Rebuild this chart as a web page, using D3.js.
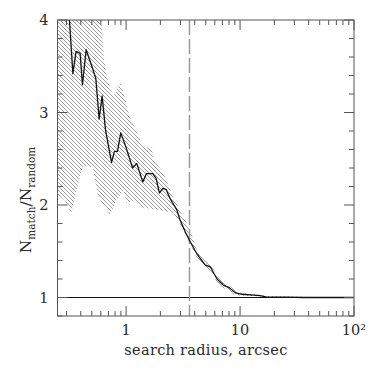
<!DOCTYPE html>
<html>
<head>
<meta charset="utf-8">
<script src="https://cdn.jsdelivr.net/npm/d3@7"></script>
<style>
body { margin: 0; background: #fff; }
text { font-family: "DejaVu Serif", "Liberation Serif", serif; fill: #2a2a2a; }
</style>
</head>
<body>
<div id="chart"></div>
<script>
// measured ratio vs search radius
var radius = [0.30, 0.341, 0.364, 0.395, 0.414, 0.446, 0.50, 0.542, 0.58, 0.616, 0.66, 0.745, 0.79, 0.84, 0.898,
              1.0, 1.14, 1.24, 1.40, 1.51, 1.71, 1.83, 1.96, 2.10, 2.24, 2.43, 2.78, 2.97, 3.3, 3.66,
              4.19, 4.96, 5.49, 6.28, 7.2, 7.96, 9.1, 10.4, 13.2, 15.0, 17.2, 25.8, 36, 100];
var ratio = [4.5, 3.42, 3.66, 3.64, 3.30, 3.68, 3.50, 3.37, 2.93, 3.18, 2.81, 2.46, 2.58, 2.58, 2.78,
             2.62, 2.40, 2.45, 2.25, 2.34, 2.34, 2.29, 2.13, 2.18, 2.17, 2.07, 1.95, 1.84, 1.71, 1.60,
             1.47, 1.35, 1.33, 1.20, 1.13, 1.11, 1.05, 1.035, 1.025, 1.02, 1.005, 1.003, 1.0, 1.0];

// error band edges
var upperX = [0.25, 0.60, 0.64, 0.68, 0.77, 0.89, 0.95, 1.08, 1.25, 1.41, 1.69, 1.72, 2.11, 2.58, 3.05, 3.64,
              4.19, 5.0, 5.5, 6.3, 7.2, 8.0, 9.0, 10.4, 13, 15, 17, 25, 40, 100];
var upperY = [4.6, 4.1, 3.57, 3.38, 3.17, 3.32, 3.21, 2.95, 2.78, 2.63, 2.62, 2.49, 2.36, 2.09, 1.92, 1.73,
              1.52, 1.40, 1.36, 1.25, 1.17, 1.13, 1.08, 1.05, 1.035, 1.03, 1.015, 1.01, 1.005, 1.003];
var lowerX = [0.25, 0.264, 0.29, 0.33, 0.36, 0.395, 0.42, 0.45, 0.47, 0.51, 0.57, 0.64, 0.72, 0.82, 0.95,
              1.01, 1.16, 1.42, 1.92, 2.6, 3.18, 3.64,
              4.19, 5.0, 5.5, 6.3, 7.2, 8.0, 9.0, 10.4, 13, 15, 17, 25, 40, 100];
var lowerY = [2.11, 2.09, 2.05, 1.92, 2.11, 2.32, 2.41, 2.42, 2.41, 2.41, 2.08, 2.0, 1.89, 2.05, 2.16,
              2.02, 2.05, 1.97, 1.95, 1.91, 1.73, 1.58,
              1.42, 1.31, 1.29, 1.16, 1.10, 1.08, 1.03, 1.02, 1.015, 1.01, 0.997, 0.997, 0.995, 0.997];

var cutRadius = 3.6;
var yTicks = [1, 2, 3, 4];
var xTicks = [1, 10, 100];
var xTickLabels = ["1", "10", "10²"];

var width = 374, height = 374;
var margin = {left: 57.5, right: 20, top: 20, bottom: 58};
var x = d3.scaleLog().domain([0.25, 100]).range([margin.left, width - margin.right]);
var y = d3.scaleLinear().domain([0.8, 4]).range([height - margin.bottom, margin.top]);

var svg = d3.select("#chart").append("svg").attr("width", width).attr("height", height);

var defs = svg.append("defs");
defs.append("clipPath").attr("id", "clip").append("rect")
    .attr("x", x.range()[0]).attr("y", y.range()[1])
    .attr("width", x.range()[1] - x.range()[0]).attr("height", y.range()[0] - y.range()[1]);
var pat = defs.append("pattern").attr("id", "hatch").attr("patternUnits", "userSpaceOnUse")
    .attr("width", 4).attr("height", 4);
pat.append("path").attr("d", "M0,0L4,4M-1,3L1,5M3,-1L5,1")
    .attr("stroke", "#8a8a8a").attr("stroke-width", 0.85);

var plot = svg.append("g").attr("clip-path", "url(#clip)");

// hatched band: upper edge then lower edge backwards
var band = upperX.map(function(d, i) { return [x(d), y(upperY[i])]; });
for (var i = lowerX.length - 1; i >= 0; i--) band.push([x(lowerX[i]), y(lowerY[i])]);
plot.append("path").attr("d", "M" + band.join("L") + "Z").attr("fill", "url(#hatch)");

plot.append("line").attr("x1", x.range()[0]).attr("x2", x.range()[1])
    .attr("y1", y(1)).attr("y2", y(1)).attr("stroke", "#111").attr("stroke-width", 1);

plot.append("line").attr("x1", x(cutRadius)).attr("x2", x(cutRadius))
    .attr("y1", y.range()[1]).attr("y2", y.range()[0])
    .attr("stroke", "#999").attr("stroke-width", 1.5).attr("stroke-dasharray", "15,4");

var line = d3.line().x(function(d, i) { return x(radius[i]); }).y(function(d) { return y(d); });
plot.append("path").attr("d", line(ratio)).attr("fill", "none")
    .attr("stroke", "#111").attr("stroke-width", 1.3).attr("stroke-linejoin", "round");

// frame and ticks
var axisColor = "#555";
svg.append("rect").attr("x", x.range()[0]).attr("y", y.range()[1])
    .attr("width", x.range()[1] - x.range()[0]).attr("height", y.range()[0] - y.range()[1])
    .attr("fill", "none").attr("stroke", axisColor).attr("stroke-width", 1);

var minorX = [];
[0.1, 1, 10].forEach(function(dec) {
    for (var k = 2; k <= 9; k++) { var v = dec * k; if (v > 0.25 && v < 100) minorX.push(v); }
});
var yb = y.range()[0], yt = y.range()[1];
var tk = svg.append("g").attr("stroke", axisColor).attr("stroke-width", 1);
minorX.forEach(function(v) {
    tk.append("line").attr("x1", x(v)).attr("x2", x(v)).attr("y1", yb).attr("y2", yb - 5);
    tk.append("line").attr("x1", x(v)).attr("x2", x(v)).attr("y1", yt).attr("y2", yt + 5);
});
xTicks.forEach(function(v) {
    tk.append("line").attr("x1", x(v)).attr("x2", x(v)).attr("y1", yb).attr("y2", yb - 10);
    tk.append("line").attr("x1", x(v)).attr("x2", x(v)).attr("y1", yt).attr("y2", yt + 10);
});
var xl = x.range()[0], xr = x.range()[1];
d3.range(0.8, 4.01, 0.2).forEach(function(v) {
    var major = Math.abs(v - Math.round(v)) < 1e-6;
    var len = major ? 10 : 5;
    tk.append("line").attr("x1", xl).attr("x2", xl + len).attr("y1", y(v)).attr("y2", y(v));
    tk.append("line").attr("x1", xr).attr("x2", xr - len).attr("y1", y(v)).attr("y2", y(v));
});

// tick labels
svg.selectAll(".xlab").data(xTicks).enter().append("text")
    .attr("x", function(d) { return x(d); }).attr("y", 335)
    .attr("text-anchor", "middle").attr("font-size", 14.5)
    .text(function(d, i) { return xTickLabels[i]; });
svg.selectAll(".ylab").data(yTicks).enter().append("text")
    .attr("x", xl - 9).attr("y", function(d) { return y(d) + 5; })
    .attr("text-anchor", "end").attr("font-size", 14.5)
    .text(function(d) { return d; });

svg.append("text").attr("x", 206).attr("y", 355)
    .attr("text-anchor", "middle").attr("font-size", 14.5)
    .attr("letter-spacing", 0.3)
    .text("search radius, arcsec");

var yt2 = svg.append("text").attr("transform", "translate(31,200) rotate(-90)")
    .attr("text-anchor", "middle").attr("font-size", 15.5);
yt2.append("tspan").text("N");
yt2.append("tspan").attr("font-size", 10.5).attr("dy", 4).text("match");
yt2.append("tspan").attr("dy", -4).text("/N");
yt2.append("tspan").attr("font-size", 10.5).attr("dy", 4).text("random");
</script>
</body>
</html>
